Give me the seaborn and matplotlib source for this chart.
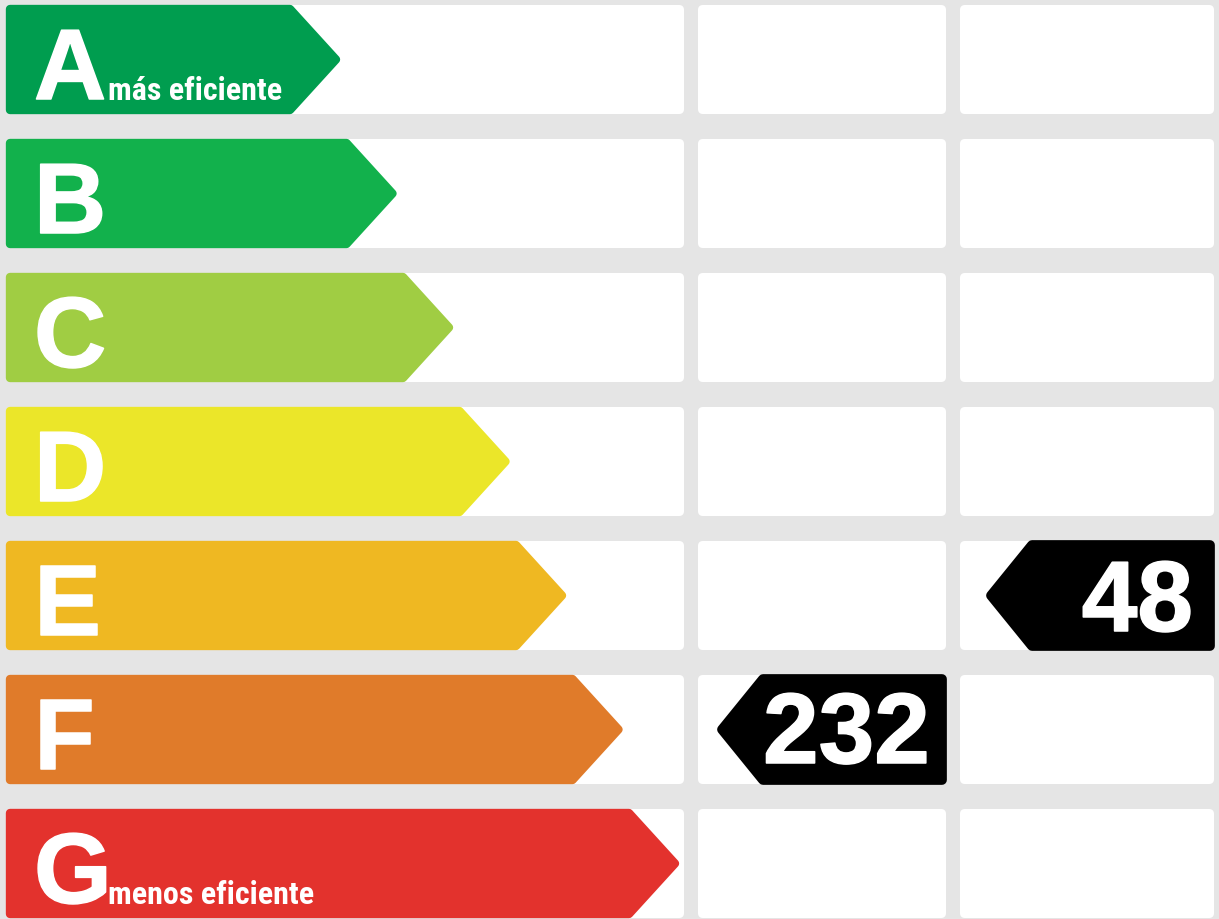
import matplotlib
matplotlib.use("Agg")
import matplotlib.pyplot as plt
from matplotlib import font_manager
from matplotlib.patches import Polygon, FancyBboxPatch
import matplotlib.patheffects as pe
import seaborn as sns

# energy classes, top (best) to bottom (worst)
classes = ["A", "B", "C", "D", "E", "F", "G"]
class_colors = ["#009d4f", "#12b14c", "#a0cd43", "#ebe629", "#efb822", "#e07b2a", "#e3322d"]
notes = {"A": "más eficiente", "G": "menos eficiente"}

# ratings: consumption (middle column) and emissions (right column)
consumption_class = "F"
consumption_value = 232
emission_class = "E"
emission_value = 48

sns.set_theme(style="white")
palette = sns.color_palette(class_colors)

installed = {f.name for f in font_manager.fontManager.ttflist}
bold_font = ["Liberation Sans", "DejaVu Sans"]
if "Roboto Condensed" in installed:
    note_font, note_size = ["Roboto Condensed", "DejaVu Sans"], 23
elif "Liberation Sans Narrow" in installed:
    note_font, note_size = ["Liberation Sans Narrow", "DejaVu Sans"], 24
else:
    note_font, note_size = bold_font, 20
heavy = [pe.withStroke(linewidth=1.1, foreground="white")]

W, H = 1219, 920
fig = plt.figure(figsize=(W / 100, H / 100), dpi=100)
fig.patch.set_facecolor("#e5e5e5")
ax = fig.add_axes([0, 0, 1, 1])
ax.set_xlim(0, W)
ax.set_ylim(H, 0)
ax.set_axis_off()

row_top0, row_step, row_h = 6, 134, 109
cols = [(6, 684), (698, 946), (960, 1214)]
tip0, tip_step, point_w = 341, 56.5, 51
inset = 4  # half the outline width, so rounded joins stay inside the shape


def rounded_poly(pts, color, lw=6.0, z=3):
    ax.add_patch(Polygon(pts, closed=True, facecolor=color, edgecolor=color,
                         linewidth=lw, joinstyle="round", zorder=z))


for i, (cls, col) in enumerate(zip(classes, palette)):
    top = row_top0 + row_step * i
    bot = top + row_h
    mid = (top + bot) / 2
    # white cells
    for x0, x1 in cols:
        ax.add_patch(FancyBboxPatch((x0, top), x1 - x0, row_h,
                                    boxstyle="round,pad=0,rounding_size=5",
                                    facecolor="white", edgecolor="none", zorder=1))
    # class arrow
    tip = tip0 + tip_step * i
    rounded_poly([(6 + inset, top + inset), (tip - point_w, top + inset),
                  (tip - inset - 1, mid), (tip - point_w, bot - inset),
                  (6 + inset, bot - inset)], col)
    ax.text(34, top + 94, cls, color="white", fontsize=72, fontweight="bold",
            family=bold_font, va="baseline", ha="left", zorder=4, path_effects=heavy)
    if cls in notes:
        ax.text(108, top + 94, notes[cls], color="white", fontsize=note_size,
                fontweight="bold", family=note_font, va="baseline", ha="left", zorder=4)


def badge(cls, value, col_idx, base_off):
    i = classes.index(cls)
    top = row_top0 + row_step * i
    bot = top + row_h
    mid = (top + bot) / 2
    x0, x1 = cols[col_idx]
    tip = x0 + 20 if col_idx == 1 else x0 + 27
    rounded_poly([(tip + inset, mid), (tip + 45, top + inset), (x1 - inset, top + inset),
                  (x1 - inset, bot - inset), (tip + 45, bot - inset)], "black", lw=7)
    ax.text(x1 - 16 if col_idx == 1 else x1 - 21, top + base_off, str(value),
            color="white", fontsize=72, fontweight="bold", family=bold_font,
            va="baseline", ha="right", zorder=4, path_effects=heavy)


badge(consumption_class, consumption_value, 1, 88)
badge(emission_class, emission_value, 2, 90)

fig.savefig("out.png", dpi=100, facecolor=fig.get_facecolor())
